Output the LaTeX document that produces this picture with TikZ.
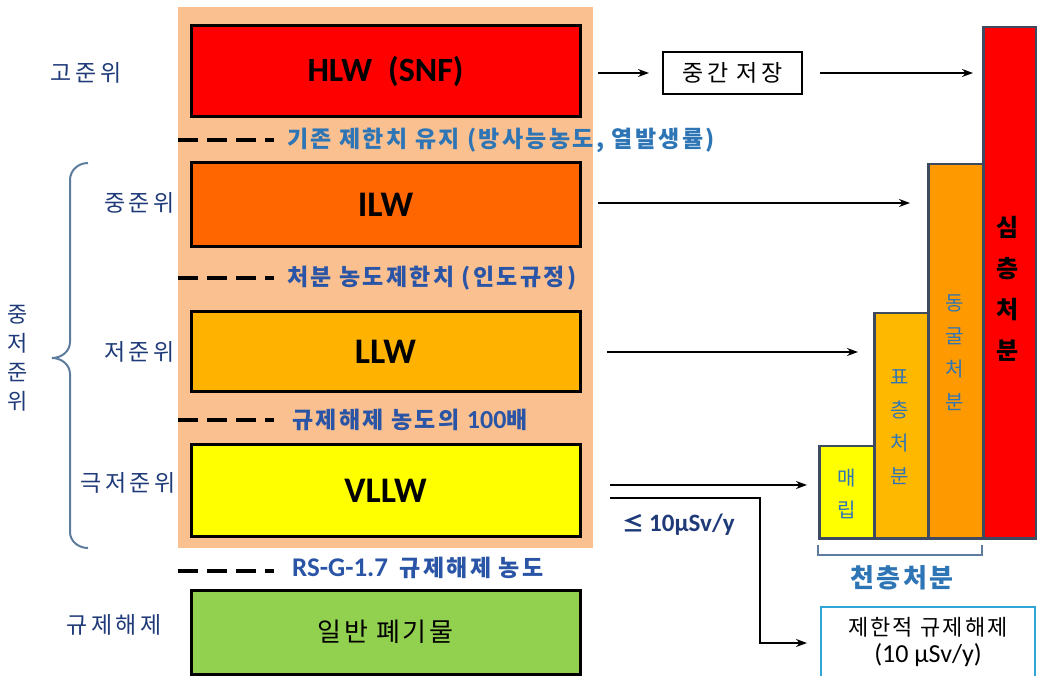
\documentclass[tikz,border=0pt]{standalone}
\usepackage{fontspec}
\setmainfont{Noto Sans CJK KR}
\newfontfamily\lat{Carlito}
\newfontfamily\kosp[LetterSpace=10]{Noto Sans CJK KR}
\newfontfamily\kowide[LetterSpace=15]{Noto Sans CJK KR}
\usetikzlibrary{arrows.meta}
\definecolor{peach}{HTML}{FAC090}
\definecolor{hlwc}{HTML}{FF0000}
\definecolor{ilwc}{HTML}{FF6600}
\definecolor{llwc}{HTML}{FFB300}
\definecolor{vllwc}{HTML}{FFFF00}
\definecolor{exc}{HTML}{92D050}
\definecolor{navy}{HTML}{1F3A78}
\definecolor{midblue}{HTML}{2A55A6}
\definecolor{skyblue}{HTML}{2E75B6}
\definecolor{bracec}{HTML}{5E7D9E}
\definecolor{barline}{HTML}{3D4A60}
\definecolor{cavec}{HTML}{FF9900}
\definecolor{surfc}{HTML}{FFB800}
\definecolor{lightbl}{HTML}{31A6D6}
\begin{document}
\begin{tikzpicture}[x=1pt,y=-1pt,
  wbox/.style={draw=black, line width=3pt, minimum width=389pt, inner sep=0pt, font=\lat\bfseries\fontsize{36}{36}\selectfont},
  lvl/.style={text=navy, font=\kowide\fontsize{23}{23}\selectfont, inner sep=0pt},
  lim/.style={text=midblue, font=\kosp\bfseries\fontsize{23}{23}\selectfont, anchor=west, inner sep=0pt},
  dashln/.style={line width=4pt, dash pattern=on 20pt off 9pt},
  arr/.style={line width=1.3pt, -{Stealth[length=11pt,width=8pt]}},
  bar/.style={draw=barline, line width=2.5pt, anchor=north west, inner sep=0pt},
  vtext/.style={align=center, inner sep=0pt},
]
\useasboundingbox (0,0) rectangle (1037,676);
% peach background
\fill[peach] (178,7) rectangle (593,548);
% waste boxes
\node[wbox, fill=hlwc, minimum height=91pt, font=\lat\bfseries\fontsize{34}{34}\selectfont] (hlw) at (385.5,71.5) {HLW\hspace{16pt}(SNF)};
\node[wbox, fill=ilwc, minimum height=84pt] (ilw) at (385.5,205) {ILW};
\node[wbox, fill=llwc, minimum height=80pt] (llw) at (385.5,352) {LLW};
\node[wbox, fill=vllwc, minimum height=91pt] (vllw) at (385.5,490.5) {VLLW};
\node[wbox, fill=exc, minimum height=84pt, font=\kosp\fontsize{26}{26}\selectfont] (gen) at (385.5,632) {일반 폐기물};
% dashed limits
\draw[dashln] (178,140) -- (274,140);
\draw[dashln] (178,278) -- (274,278);
\draw[dashln] (178,420) -- (274,420);
\draw[dashln] (178,571) -- (274,571);
\node[lim, text=skyblue] (l1) at (287,140) {기존 제한치 유지 (방사능농도, 열발생률)};
\node[lim] (l2) at (287,278) {처분 농도제한치 (인도규정)};
\node[lim] (l3) at (292,420) {규제해제 농도의 {\lat\fontsize{26}{26}\selectfont 100}배};
\node[lim] (l4) at (292,568) {{\lat\fontsize{27}{27}\selectfont RS-G-1.7}\hspace{4pt} 규제해제 농도};
% level labels
\node[lvl] (t1) at (86,73) {고준위};
\node[lvl] (t2) at (139.5,203) {중준위};
\node[lvl] (t3) at (139.5,352) {저준위};
\node[lvl] (t4) at (128,483) {극저준위};
\node[lvl] (t5) at (114,625) {규제해제};
\node[lvl, vtext, font=\fontsize{22}{29}\selectfont] (t6) at (18,358.5) {중\\저\\준\\위};
% brace
\draw[bracec, line width=2pt] (88,163) to[out=180,in=90] (70,180) -- (70,342) to[out=-90,in=0] (52,358) to[out=0,in=90] (70,374) -- (70,532) to[out=-90,in=180] (88,548);
% disposal bars
\node[bar, fill=vllwc, minimum width=55pt, minimum height=92pt] (landfill) at (818,445) {};
\node[bar, fill=surfc, minimum width=54pt, minimum height=225pt] (surface) at (873,312) {};
\node[bar, fill=cavec, minimum width=55pt, minimum height=374pt] (cave) at (927,163) {};
\node[bar, fill=hlwc, minimum width=53pt, minimum height=511pt] (deep) at (982,26) {};
\node[vtext, text=skyblue, font=\fontsize{20}{32}\selectfont] (vt1) at (847,494) {매\\립};
\node[vtext, text=skyblue, font=\fontsize{20}{33}\selectfont] (vt2) at (900,427.5) {표\\층\\처\\분};
\node[vtext, text=skyblue, font=\fontsize{20}{33}\selectfont] (vt3) at (955,352.5) {동\\굴\\처\\분};
\node[vtext, text=black, font=\bfseries\fontsize{24}{41}\selectfont] (vt4) at (1008,288.5) {심\\층\\처\\분};
% shallow bracket
\draw[bracec, line width=2pt] (818,545) -- (818,555) -- (982,555) -- (982,545);
\node[text=skyblue, font=\kosp\bfseries\fontsize{26}{26}\selectfont, inner sep=0pt] (shallow) at (902,578) {천층처분};
% interim storage
\node[draw=black, line width=2pt, minimum width=139pt, minimum height=42pt, inner sep=0pt, font=\kowide\fontsize{23}{23}\selectfont] (store) at (732.5,73) {중간 저장};
% limited clearance box
\node[draw=lightbl, line width=2.5pt, minimum width=214pt, minimum height=70pt, inner sep=0pt, align=center, font=\kosp\fontsize{22}{27}\selectfont] (limc) at (928,642) {제한적 규제해제\\{\lat\fontsize{26}{26}\selectfont (10 μSv/y)}};
% dose label
\node[anchor=west, inner sep=0pt, text=navy, font=\bfseries\fontsize{22}{22}\selectfont] (dose) at (622,525) {≤ {\lat\fontsize{25}{25}\selectfont 10μSv/y}};
% arrows
\coordinate (s1) at (598,73);
\coordinate (s2) at (820,73);
\coordinate (e2) at (973,73);
\coordinate (s3) at (598,203);
\coordinate (e3) at (910,203);
\coordinate (s4) at (607,352);
\coordinate (e4) at (858,352);
\coordinate (s5) at (610,485);
\coordinate (e5) at (807,485);
\coordinate (s6) at (610,498);
\coordinate (k6) at (760,498);
\coordinate (e6) at (807,643);
\draw[arr] (s1) -- ([xshift=-13pt]store.west);
\draw[arr] (s2) -- (e2);
\draw[arr] (s3) -- (e3);
\draw[arr] (s4) -- (e4);
\draw[arr] (s5) -- (e5);
\draw[arr] (s6) -- (k6) |- (e6);
\end{tikzpicture}
\end{document}
